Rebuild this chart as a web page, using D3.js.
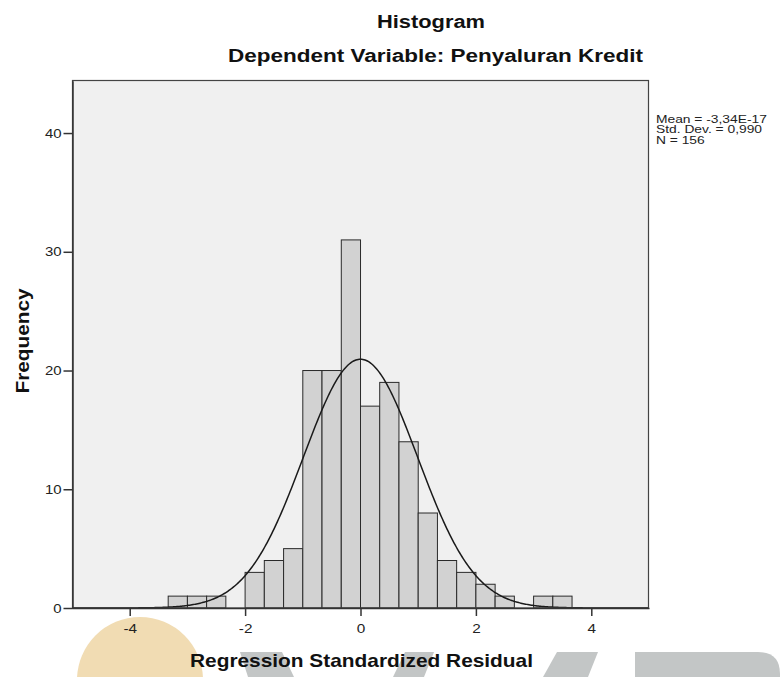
<!DOCTYPE html>
<html><head><meta charset="utf-8">
<script src="https://cdn.jsdelivr.net/npm/d3@7"></script>
<style>body{margin:0;background:#fff}svg{display:block}text{font-family:"Liberation Sans",Arial,sans-serif}</style>
</head><body><svg id="c" width="780" height="677"></svg>
<script>
// ---- data ----
const binLower = [-3.333,-3.000,-2.667,-2.333,-2.000,-1.667,-1.333,-1.000,-0.667,-0.333,0.000,0.333,0.667,1.000,1.333,1.667,2.000,2.333,2.667,3.000,3.333];
const binWidth = 0.3333;
const counts   = [1,1,1,0,3,4,5,20,20,31,17,19,14,8,4,3,2,1,0,1,1];
const xTicks = [-4,-2,0,2,4];
const yTicks = [0,10,20,30,40];
const meanVal = -3.34e-17, sdVal = 0.990, nVal = 156;
const statLabels = ["Mean = -3,34E-17","Std. Dev. = 0,990","N = 156"];
const titleText = "Histogram";
const subtitleText = "Dependent Variable: Penyaluran Kredit";
const xLabel = "Regression Standardized Residual";
const yLabel = "Frequency";

// ---- layout ----
const svg = d3.select("#c");
const x = d3.scaleLinear().domain([-5,5]).range([72,649]);
const y = d3.scaleLinear().domain([0,44.4]).range([608,80.8]);
const L = 72.5, R = 648.5, T = 80.5, B = 608;

// widen text glyphs to match reference proportions
function widen(sel, f){
  sel.each(function(){
    const w = this.getComputedTextLength();
    d3.select(this).attr("textLength", w*f).attr("lengthAdjust","spacingAndGlyphs");
  });
}

// watermark (behind)
const wm = svg.append("g");
wm.append("circle").attr("cx",140).attr("cy",680).attr("r",63).attr("fill","#f1dcb3");
wm.append("path").attr("d","M240,652 L282,652 L294,677 L248,677 Z").attr("fill","#c3c6c6");
wm.append("path").attr("d","M405,652 L434,652 L424,677 L393,677 Z").attr("fill","#c3c6c6");
wm.append("path").attr("d","M557,652 L598,652 L588,677 L543,677 Z").attr("fill","#c3c6c6");
wm.append("path").attr("d","M635,652 L758,652 Q780,652 780,674 L780,677 L635,677 Z").attr("fill","#c3c6c6");

// plot background
svg.append("rect").attr("x",L).attr("y",T).attr("width",R-L).attr("height",B-T)
  .attr("fill","#f0f0f0");

// bars
svg.append("g").selectAll("rect").data(counts.map((c,i)=>({lo:binLower[i],c})).filter(d=>d.c>0))
  .join("rect")
  .attr("x",d=>x(d.lo)).attr("width",d=>x(d.lo+binWidth)-x(d.lo))
  .attr("y",d=>y(d.c)).attr("height",d=>y(0)-y(d.c))
  .attr("fill","#d2d2d2").attr("stroke","#2a2a2a").attr("stroke-width",1);

// normal curve
const pts = d3.range(-5,5.001,0.02).map(v=>[v, nVal*binWidth/(sdVal*Math.sqrt(2*Math.PI))*Math.exp(-0.5*((v-meanVal)/sdVal)**2)]);
svg.append("path").datum(pts)
  .attr("d",d3.line().x(d=>x(d[0])).y(d=>y(d[1])))
  .attr("fill","none").attr("stroke","#1a1a1a").attr("stroke-width",1.5);

// frame
svg.append("rect").attr("x",L).attr("y",T).attr("width",R-L).attr("height",B-T)
  .attr("fill","none").attr("stroke","#444").attr("stroke-width",1.2);

// axes
const fmt = d => String(d);
const xa = svg.append("g").attr("transform",`translate(0,${B})`)
  .call(d3.axisBottom(x).tickValues(xTicks).tickSize(8).tickSizeOuter(0).tickPadding(3).tickFormat(fmt));
const ya = svg.append("g").attr("transform",`translate(${L},0)`)
  .call(d3.axisLeft(y).tickValues(yTicks).tickSize(9).tickSizeOuter(0).tickPadding(2).tickFormat(fmt));
[xa,ya].forEach(a=>{
  a.select(".domain").attr("stroke","#333").attr("stroke-width",1.5);
  a.selectAll(".tick line").attr("stroke","#333").attr("stroke-width",1.5);
  a.selectAll(".tick text").attr("fill","#222").attr("font-size",13).attr("font-family","Liberation Sans, Arial, sans-serif");
});
xa.selectAll(".tick text").attr("dy","1.05em");
widen(xa.selectAll(".tick text"),1.18);
widen(ya.selectAll(".tick text"),1.15);

// titles
svg.append("text").attr("x",431).attr("y",28).attr("text-anchor","middle")
  .attr("font-size",18).attr("font-weight","bold").attr("fill","#111")
  .attr("textLength",108).attr("lengthAdjust","spacingAndGlyphs").text(titleText);
svg.append("text").attr("x",435.5).attr("y",62).attr("text-anchor","middle")
  .attr("font-size",18).attr("font-weight","bold").attr("fill","#111")
  .attr("textLength",415).attr("lengthAdjust","spacingAndGlyphs").text(subtitleText);
svg.append("text").attr("x",361.5).attr("y",667).attr("text-anchor","middle")
  .attr("font-size",18.5).attr("font-weight","bold").attr("fill","#111")
  .attr("textLength",343).attr("lengthAdjust","spacingAndGlyphs").text(xLabel);
svg.append("text").attr("transform","translate(29,341) rotate(-90)").attr("text-anchor","middle")
  .attr("font-size",18).attr("font-weight","bold").attr("fill","#111")
  .attr("textLength",105).attr("lengthAdjust","spacingAndGlyphs").text(yLabel);

// stats legend
const leg = svg.append("g").selectAll("text").data(statLabels).join("text")
  .attr("x",656).attr("y",(d,i)=>123+i*10.3).attr("font-size",11.5).attr("fill","#222").text(d=>d);
widen(leg,1.2);
</script></body></html>
